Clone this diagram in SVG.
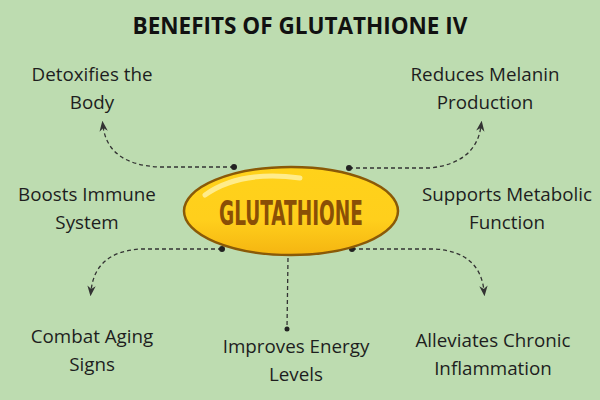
<svg xmlns="http://www.w3.org/2000/svg" width="600" height="400" viewBox="0 0 600 400">
<defs>
<style>
.t{font-family:"Open Sans","Liberation Sans",sans-serif;font-size:18.8px;fill:#1e1e1e;text-anchor:middle}
.c{fill:none;stroke:#333;stroke-width:1.3;stroke-dasharray:4 3}
.d{fill:#222}
</style>
<marker id="a" viewBox="0 0 10 10" refX="5" refY="5" markerWidth="8" markerHeight="8" orient="auto-start-reverse"><path d="M0,1 L10,5 L0,9 L3,5 Z" fill="#333"/></marker>
<linearGradient id="g" x1="0" y1="0" x2="0" y2="1"><stop offset="0" stop-color="#ffd21a"/><stop offset="0.6" stop-color="#ffcf1c"/><stop offset="1" stop-color="#f5b511"/></linearGradient>
</defs>
<rect width="600" height="400" fill="#bddcb0"/>
<text x="300" y="34" style="font-family:'Open Sans','Liberation Sans',sans-serif;font-size:22.5px;font-weight:bold;fill:#111;text-anchor:middle">BENEFITS OF GLUTATHIONE IV</text>
<g id="connectors">
<path class="c" d="M234,167 L160,167 Q108,165 103,126" marker-end="url(#a)"/>
<path class="c" d="M349,168 L430,168 Q476,163 481,126" marker-end="url(#a)"/>
<path class="c" d="M222,249 L140,249 Q95,252 91,291" marker-end="url(#a)"/>
<path class="c" d="M352,249 L435,249 Q480,252 484,291" marker-end="url(#a)"/>
<path class="c" d="M288,258 L287,328"/>
<circle class="d" cx="234" cy="167" r="3"/><circle class="d" cx="349" cy="168" r="3"/>
<circle class="d" cx="222" cy="249" r="3"/><circle class="d" cx="352" cy="249" r="3"/>
<circle class="d" cx="287" cy="329" r="2.5"/>
</g>
<g id="capsule">
<ellipse cx="291" cy="211" rx="107" ry="44" fill="url(#g)" stroke="#8a5a08" stroke-width="2.5"/>
<path d="M205,195 Q240,170 300,178" fill="none" stroke="#fff3a8" stroke-width="5" stroke-linecap="round" opacity="0.8"/>
<text x="291" y="225" textLength="144" lengthAdjust="spacingAndGlyphs" style="font-family:'DejaVu Sans Condensed','Liberation Sans',sans-serif;font-weight:bold;font-size:34px;fill:#8a4f06;text-anchor:middle">GLUTATHIONE</text>
</g>
<g id="n1"><text class="t" x="92" y="81">Detoxifies the</text><text class="t" x="92" y="109">Body</text></g>
<g id="n2"><text class="t" x="485" y="81">Reduces Melanin</text><text class="t" x="485" y="109">Production</text></g>
<g id="n3"><text class="t" x="87" y="201">Boosts Immune</text><text class="t" x="87" y="229">System</text></g>
<g id="n4"><text class="t" x="507" y="201">Supports Metabolic</text><text class="t" x="507" y="229">Function</text></g>
<g id="n5"><text class="t" x="92" y="343">Combat Aging</text><text class="t" x="92" y="371">Signs</text></g>
<g id="n6"><text class="t" x="296" y="353">Improves Energy</text><text class="t" x="296" y="381">Levels</text></g>
<g id="n7"><text class="t" x="493" y="347">Alleviates Chronic</text><text class="t" x="493" y="375">Inflammation</text></g>
</svg>
